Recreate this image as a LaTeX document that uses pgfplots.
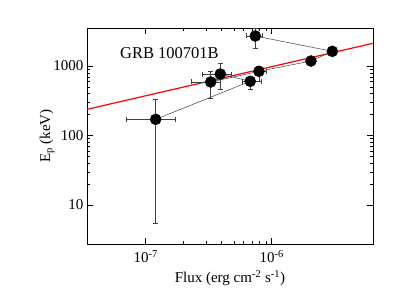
\documentclass[border=0pt]{standalone}
\usepackage{fontspec}
\setmainfont{Liberation Serif}
\usepackage{pgfplots}
\pgfplotsset{compat=1.18}

% flux, Ep, and errors (minus/plus)
\pgfplotstableread{
x        y     exm      exp      eym    eyp
1.20e-7  171   5.0e-8   5.1e-8   165.5  164
6.76e-7  603   0.96e-7  1.46e-7  141    84
3.91e-7  767   1.11e-7  0.89e-7  305    327
3.28e-7  589   1.0e-7   0.62e-7  246    239
7.93e-7  839   0.63e-7  1.17e-7  245    161
2.05e-6  1180  0        0        0      0
3.03e-6  1626  0        0        0      0
7.41e-7  2704  1.09e-7  1.0e-7   889    776
}\grbdata

\begin{document}
\begin{tikzpicture}
\begin{axis}[
  at={(0,0)}, anchor=south west,
  scale only axis, width=286pt, height=216pt,
  xmode=log, ymode=log,
  xmin=3.42e-8, xmax=6.37e-6, ymin=2.75, ymax=3524,
  xtick={1e-7,1e-6}, xticklabels={10\textsuperscript{-7},10\textsuperscript{-6}},
  ytick={10,100,1000}, yticklabels={10,100,1000},
  tick align=inside, major tick length=6pt, minor tick length=3pt,
  tick style={black, line width=0.5pt},
  axis line style={line width=0.7pt},
  ticklabel style={font=\fontsize{15}{17}\selectfont},
  xticklabel style={yshift=-3pt},
  xlabel={Flux (erg cm\textsuperscript{-2} s\textsuperscript{-1})},
  ylabel={E\textsubscript{p} (keV)},
  label style={font=\fontsize{15}{17}\selectfont},
  xlabel style={yshift=-1pt},
  ylabel style={yshift=-8pt},
  clip=true]
\addplot[red, line width=1.2pt] coordinates {(3.42e-8,238) (6.37e-6,2123)};
\addplot[black!75, line width=0.5pt,
  mark=*, mark size=5.5pt, mark options={fill=black, draw=black},
  error bars/.cd, x dir=both, x explicit, y dir=both, y explicit,
  error mark options={rotate=90, mark size=2.5pt, black!75, line width=0.5pt},
  error bar style={black!75, line width=0.5pt}]
  table[x=x, y=y, x error plus=exp, x error minus=exm,
        y error plus=eyp, y error minus=eym] {\grbdata};
\node[anchor=west, inner sep=0pt, font=\fontsize{16.5}{18}\selectfont] at (axis cs:6.25e-8,1525) {GRB 100701B};
\end{axis}
\useasboundingbox (-87pt,-56pt) rectangle (313pt,244pt);
\end{tikzpicture}
\end{document}
